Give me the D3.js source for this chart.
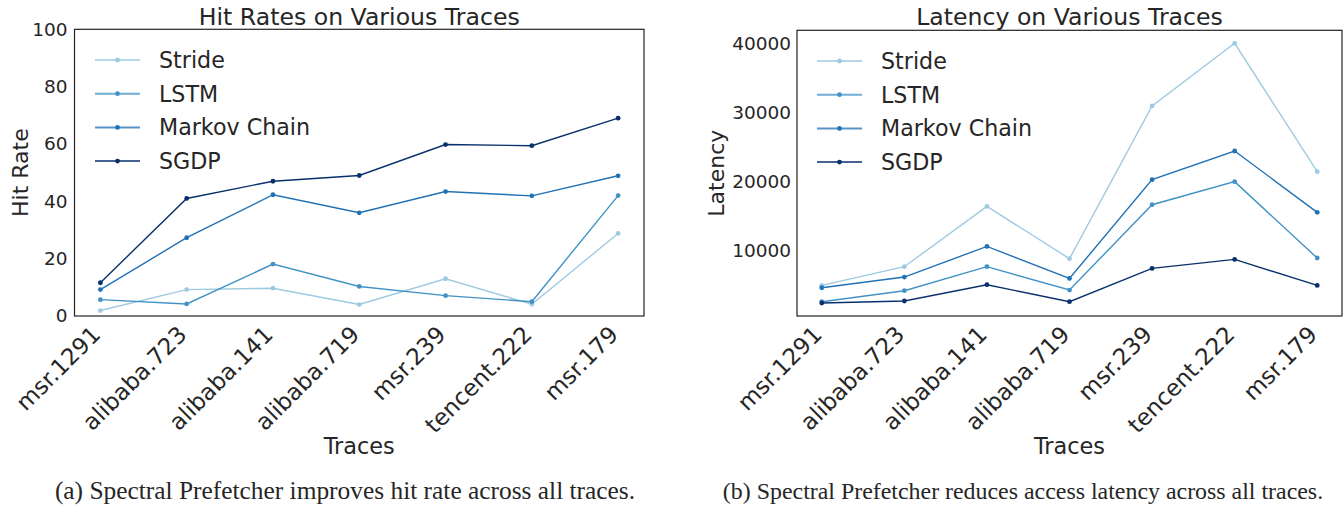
<!DOCTYPE html>
<html><head><meta charset="utf-8">
<script src="https://cdn.jsdelivr.net/npm/d3@7"></script>
<style>
body{margin:0;background:#fff}
svg text{font-family:"DejaVu Sans",sans-serif;fill:#262626}
</style>
</head><body><svg id="c" width="1344" height="505"></svg>
<script>
const traces = ["msr.1291","alibaba.723","alibaba.141","alibaba.719","msr.239","tencent.222","msr.179"];
const seriesNames = ["Stride","LSTM","Markov Chain","SGDP"];
const hitStride = [1.9, 9.2, 9.7, 4.0, 13.0, 4.1, 28.8];
const hitLSTM   = [5.7, 4.2, 18.1, 10.3, 7.1, 5.0, 42.0];
const hitMarkov = [9.2, 27.3, 42.3, 36.0, 43.4, 41.9, 48.9];
const hitSGDP   = [11.6, 41.0, 47.0, 49.0, 59.8, 59.4, 69.0];
const latStride = [4930, 7640, 16380, 8800, 30930, 40000, 21400];
const latLSTM   = [2570, 4160, 7640, 4260, 16620, 19960, 8900];
const latMarkov = [4590, 6140, 10580, 5940, 20250, 24400, 15510];
const latSGDP   = [2380, 2670, 5030, 2570, 7390, 8700, 4930];
const hitTicks = [0, 20, 40, 60, 80, 100];
const latTicks = [10000, 20000, 30000, 40000];
const colors = ["#9ecae1", "#4292c6", "#2171b5", "#08306b"];

const svg = d3.select("#c");

function panel(cfg) {
  const g = svg.append("g");
  const x = d3.scalePoint().domain(traces).range([cfg.x0, cfg.x1]).padding(0.3);
  const y = d3.scaleLinear().domain(cfg.domain).range([cfg.y1, cfg.y0]);

  const ya = g.append("g").attr("transform", `translate(${cfg.x0},0)`)
    .call(d3.axisLeft(y).tickValues(cfg.ticks).tickSize(0).tickPadding(cfg.ypad).tickFormat(d3.format("d")));
  ya.select(".domain").remove();
  ya.selectAll("text").style("font-size", "18.5px").attr("fill", "#262626");

  const xa = g.append("g").attr("transform", `translate(0,${cfg.y1})`)
    .call(d3.axisBottom(x).tickSize(0).tickFormat(d => d));
  xa.select(".domain").remove();
  xa.selectAll("text")
    .style("font-size", "23px").attr("fill", "#262626")
    .attr("text-anchor", "end")
    .attr("dy", null).attr("y", null)
    .attr("transform", "translate(1,20) rotate(-45)");

  const line = d3.line().x((d, i) => x(traces[i])).y(d => y(d));
  cfg.series.forEach((s, k) => {
    g.append("path").datum(s).attr("d", line)
      .attr("fill", "none").attr("stroke", colors[k]).attr("stroke-width", 1.4);
    g.selectAll(null).data(s).enter().append("circle")
      .attr("cx", (d, i) => x(traces[i])).attr("cy", d => y(d)).attr("r", 2.4)
      .attr("fill", colors[k]);
  });

  g.append("rect").attr("x", cfg.x0).attr("y", cfg.y0)
    .attr("width", cfg.x1 - cfg.x0).attr("height", cfg.y1 - cfg.y0)
    .attr("fill", "none").attr("stroke", "#222").attr("stroke-width", 1.2);

  seriesNames.forEach((n, k) => {
    const ly = cfg.ly + k * 33.7;
    g.append("line").attr("x1", cfg.lx).attr("x2", cfg.lx + 45).attr("y1", ly).attr("y2", ly)
      .attr("stroke", colors[k]).attr("stroke-width", 2).attr("opacity", 0.75);
    g.append("circle").attr("cx", cfg.lx + 22.5).attr("cy", ly).attr("r", 2.4).attr("fill", colors[k]);
    g.append("text").attr("x", cfg.lx + 64).attr("y", ly).attr("dy", "0.36em")
      .style("font-size", "22.2px").text(n);
  });

  const cx = (cfg.x0 + cfg.x1) / 2;
  g.append("text").attr("x", cx).attr("y", 25).attr("text-anchor", "middle")
    .style("font-size", "23.6px").text(cfg.title);
  g.append("text").attr("x", cx).attr("y", 454).attr("text-anchor", "middle")
    .style("font-size", "22.4px").text("Traces");
  g.append("text").attr("transform", `translate(${cfg.ylx},${(cfg.y0 + cfg.y1) / 2}) rotate(-90)`)
    .attr("text-anchor", "middle").style("font-size", "22px").text(cfg.ylabel);
  g.append("text").attr("x", cfg.capx).attr("y", 499).attr("text-anchor", "middle")
    .style("font-family", "'Liberation Serif', serif").style("font-size", cfg.capsize).attr("fill", "#000")
    .text(cfg.caption);
}

const hitSeries = [hitStride, hitLSTM, hitMarkov, hitSGDP];
panel({
  x0: 74.5, x1: 644, y0: 29.3, y1: 316,
  domain: [0, 100], ticks: hitTicks, ypad: 7,
  series: hitSeries,
  title: "Hit Rates on Various Traces", ylabel: "Hit Rate", ylx: 28,
  caption: "(a) Spectral Prefetcher improves hit rate across all traces.", capx: 345, capsize: "25.4px",
  lx: 95, ly: 60
});

const latSeries = [latStride, latLSTM, latMarkov, latSGDP];
const allLat = latSeries.flat();
const lmin = d3.min(allLat), lmax = d3.max(allLat), lpad = (lmax - lmin) * 0.05;
panel({
  x0: 797, x1: 1342, y0: 30.3, y1: 316,
  domain: [lmin - lpad, lmax + lpad], ticks: latTicks, ypad: 6,
  series: latSeries,
  title: "Latency on Various Traces", ylabel: "Latency", ylx: 724,
  caption: "(b) Spectral Prefetcher reduces access latency across all traces.", capx: 1023, capsize: "23.9px",
  lx: 817, ly: 61
});
</script></body></html>
